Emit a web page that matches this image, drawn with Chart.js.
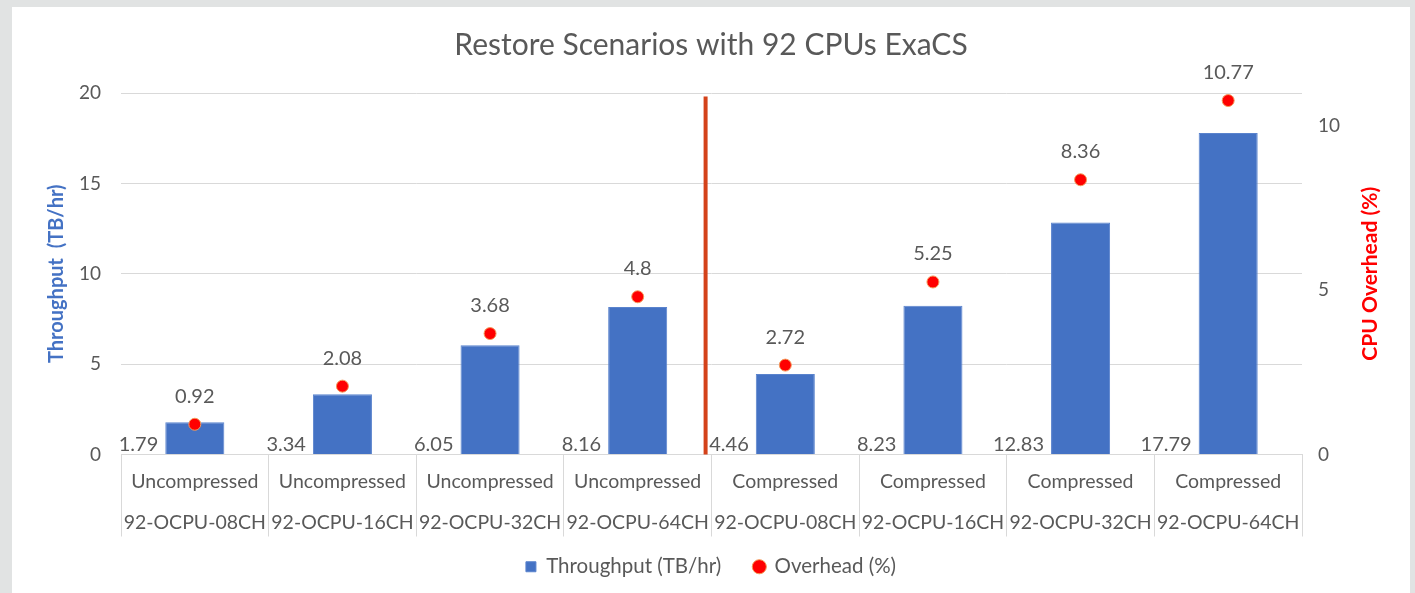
<!DOCTYPE html>
<html>
<head>
<meta charset="utf-8">
<script src="https://cdn.jsdelivr.net/npm/chart.js@4.4.1/dist/chart.umd.min.js"></script>
<style>
  body { margin: 0; background: #e1e3e3; }
  #wrap { position: absolute; left: 12px; top: 7px; width: 1398px; height: 586px; background: #fff; }
</style>
</head>
<body>
<div id="wrap"><canvas id="chart" width="1398" height="586"></canvas></div>
<script>
const scenarios = [
  ['Uncompressed', '92-OCPU-08CH'],
  ['Uncompressed', '92-OCPU-16CH'],
  ['Uncompressed', '92-OCPU-32CH'],
  ['Uncompressed', '92-OCPU-64CH'],
  ['Compressed', '92-OCPU-08CH'],
  ['Compressed', '92-OCPU-16CH'],
  ['Compressed', '92-OCPU-32CH'],
  ['Compressed', '92-OCPU-64CH']
];
const throughput = [1.79, 3.34, 6.05, 8.16, 4.46, 8.23, 12.83, 17.79];
const overhead = [0.92, 2.08, 3.68, 4.8, 2.72, 5.25, 8.36, 10.77];
const leftTicks = [0, 5, 10, 15, 20];
const rightTicks = [0, 5, 10];

const FONT = 'Lato, "Open Sans", sans-serif';
const GREY = '#595959';

// bar labels sit left of the bar base, point labels above the point
const valueLabels = {
  id: 'valueLabels',
  afterDatasetsDraw(chart) {
    const ctx = chart.ctx;
    ctx.save();
    ctx.font = '20px ' + FONT;
    ctx.fillStyle = GREY;
    chart.getDatasetMeta(0).data.forEach((bar, i) => {
      ctx.textAlign = 'right';
      ctx.textBaseline = 'bottom';
      ctx.fillText(String(throughput[i]), bar.x - bar.width / 2 - 7, bar.base + 1);
    });
    chart.getDatasetMeta(1).data.forEach((pt, i) => {
      ctx.textAlign = 'center';
      ctx.textBaseline = 'middle';
      ctx.fillText(String(overhead[i]), pt.x, pt.y - 28);
    });
    ctx.restore();
  }
};

// divider between uncompressed and compressed groups, plus the right axis title
const extras = {
  id: 'extras',
  afterDraw(chart) {
    const ctx = chart.ctx;
    const x = chart.scales.x, y = chart.scales.y, y1 = chart.scales.y1;
    const step = x.getPixelForValue(4) - x.getPixelForValue(3);
    const dx = (x.getPixelForValue(3) + x.getPixelForValue(4)) / 2 - step * 0.04;
    ctx.save();
    ctx.strokeStyle = '#d4421a';
    ctx.lineWidth = 4;
    ctx.beginPath();
    ctx.moveTo(dx, y.getPixelForValue(19.8));
    ctx.lineTo(dx, y.getPixelForValue(0));
    ctx.stroke();

    ctx.translate(y1.right - 40, (y1.top + y1.bottom) / 2);
    ctx.rotate(-Math.PI / 2);
    ctx.font = 'bold 21px ' + FONT;
    ctx.fillStyle = '#ff0000';
    ctx.textAlign = 'center';
    ctx.textBaseline = 'middle';
    ctx.fillText('CPU Overhead (%)', 0, 0);
    ctx.restore();
  }
};

new Chart(document.getElementById('chart'), {
  data: {
    labels: scenarios,
    datasets: [
      {
        type: 'bar',
        label: 'Throughput (TB/hr)',
        data: throughput,
        yAxisID: 'y',
        backgroundColor: '#4472c4',
        borderColor: '#5a83cd',
        borderWidth: 1,
        barPercentage: 0.4,
        categoryPercentage: 1,
        pointStyle: 'rect',
        order: 1
      },
      {
        type: 'line',
        label: 'Overhead (%)',
        data: overhead,
        yAxisID: 'y1',
        showLine: false,
        pointRadius: 6,
        pointBackgroundColor: '#ff0000',
        pointBorderColor: '#f39a5a',
        pointBorderWidth: 1,
        backgroundColor: '#ff0000',
        borderColor: '#f39a5a',
        pointStyle: 'circle',
        order: 0
      }
    ]
  },
  options: {
    responsive: false,
    devicePixelRatio: 1,
    animation: false,
    layout: { padding: { left: 0, right: 0, top: 0, bottom: 6 } },
    plugins: {
      tooltip: { enabled: false },
      title: {
        display: true,
        text: 'Restore Scenarios with 92 CPUs ExaCS',
        color: GREY,
        font: { family: FONT, size: 30, weight: 'normal', lineHeight: 1.2 },
        padding: { top: 20, bottom: 30 }
      },
      legend: {
        position: 'bottom',
        labels: {
          color: GREY,
          font: { family: FONT, size: 20.5 },
          usePointStyle: true,
          boxWidth: 10,
          boxHeight: 10,
          padding: 12,
          sort: (a, b) => a.datasetIndex - b.datasetIndex,
          // wider gap after the first entry, as in the original legend
          generateLabels(chart) {
            const items = Chart.defaults.plugins.legend.labels.generateLabels(chart);
            items.forEach(it => { if (it.datasetIndex === 0) it.text += '    '; });
            return items;
          }
        }
      }
    },
    scales: {
      x: {
        grid: { display: true, drawOnChartArea: false, drawTicks: true, tickLength: 82, color: '#d9d9d9', offset: true },
        border: { display: true, color: '#d9d9d9' },
        ticks: {
          color: GREY,
          font: { family: FONT, size: 19.5, lineHeight: 2.1 },
          padding: -75,
          autoSkip: false,
          maxRotation: 0,
          minRotation: 0
        },
        afterFit(s) { s.height = 90; }
      },
      y: {
        position: 'left',
        min: 0,
        max: 20,
        afterBuildTicks(s) { s.ticks = leftTicks.map(v => ({ value: v })); },
        grid: { color: '#d9d9d9', drawTicks: false },
        border: { display: false },
        ticks: { color: GREY, font: { family: FONT, size: 19 }, padding: 20 },
        title: {
          display: true,
          text: 'Throughput  (TB/hr)',
          color: '#4472c4',
          font: { family: FONT, size: 20, weight: 'bold', lineHeight: 1.2 },
          padding: { top: 33, bottom: 0 }
        },
        afterFit(s) { s.width = 109; }
      },
      y1: {
        position: 'right',
        min: 0,
        max: 11,
        afterBuildTicks(s) { s.ticks = rightTicks.map(v => ({ value: v })); },
        grid: { display: false, drawTicks: false },
        border: { display: false },
        ticks: { color: GREY, font: { family: FONT, size: 19 }, padding: 16 },
        afterFit(s) { s.width = 108; }
      }
    }
  },
  plugins: [valueLabels, extras]
});
</script>
</body>
</html>
